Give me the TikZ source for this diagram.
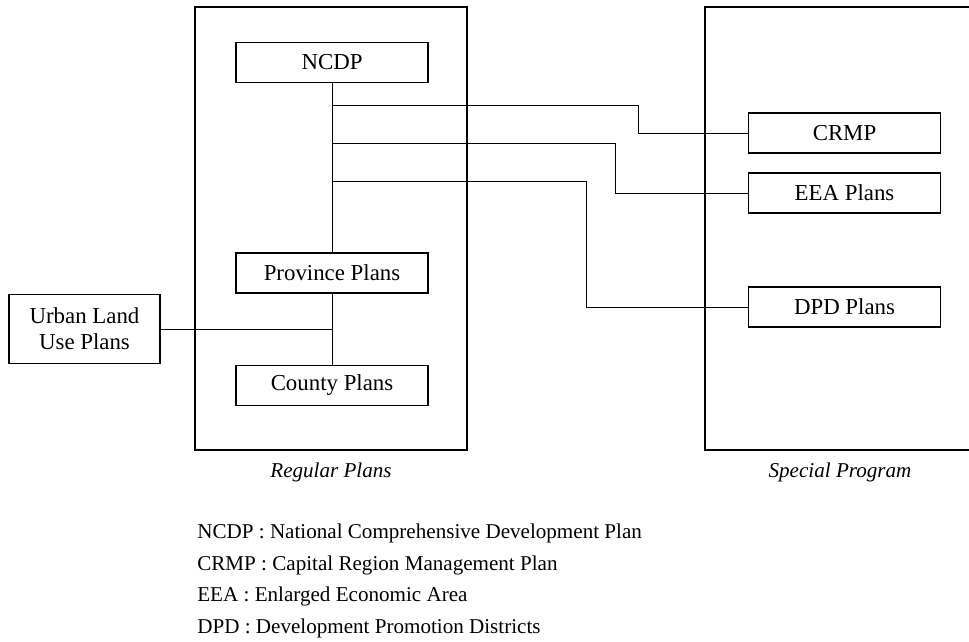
\documentclass[tikz,border=0pt]{standalone}
\usepackage{fontspec}
\setmainfont{Liberation Serif}
\usetikzlibrary{positioning}
\tikzset{
    planbox/.style={draw,line width=0.6pt,minimum width=3.84cm,minimum height=0.8cm,
        inner sep=0pt,font=\fontsize{13}{15}\selectfont},
    frame/.style={line width=0.9pt},
    link/.style={line width=0.5pt},
    caption/.style={font=\itshape\fontsize{12}{14}\selectfont}
}
\begin{document}
\begin{tikzpicture}
        \useasboundingbox (0,0) rectangle (19.38,12.82);
        \draw[frame] (3.9,3.82) rectangle (9.34,12.68);
        \draw[frame] (19.38,12.68) -| (14.1,3.82) -- (19.38,3.82);

        \node[planbox] (ncdp) at (6.64,11.57) {NCDP};
        \node[planbox] (province) at (6.64,7.36) {Province Plans};
        \node[planbox] (county) at (6.64,5.11) {County Plans};
        \node[planbox,minimum width=3.02cm,minimum height=1.38cm,align=center] (urban) at (1.69,6.24) {Urban Land\\Use Plans};
        \node[planbox] (crmp) at (16.89,10.16) {CRMP};
        \node[planbox] (eea) at (16.89,8.96) {EEA Plans};
        \node[planbox] (dpd) at (16.89,6.68) {DPD Plans};

        \draw[link] (ncdp) -- (province);
        \draw[link] (province) -- (county);
        \draw[link] (urban.east) -- (urban.east -| province);

        \coordinate (c1) at (6.64,10.72);
        \coordinate (c2) at (6.64,9.96);
        \coordinate (c3) at (6.64,9.2);
        \draw[link] (c1) -- ++(6.12,0) |- (crmp.west);
        \draw[link] (c2) -- ++(5.66,0) |- (eea.west);
        \draw[link] (c3) -- ++(5.08,0) |- (dpd.west);

        \node[caption] (regular) at (6.62,3.38) {Regular Plans};
        \node[caption] (special) at (16.8,3.38) {Special Program};

        \node[anchor=north west,align=left,inner sep=0pt,font=\fontsize{12}{18}\selectfont] (legend) at (3.94,2.35)
            {NCDP : National Comprehensive Development Plan\\
             CRMP : Capital Region Management Plan\\
             EEA : Enlarged Economic Area\\
             DPD : Development Promotion Districts};
\end{tikzpicture}
\end{document}
